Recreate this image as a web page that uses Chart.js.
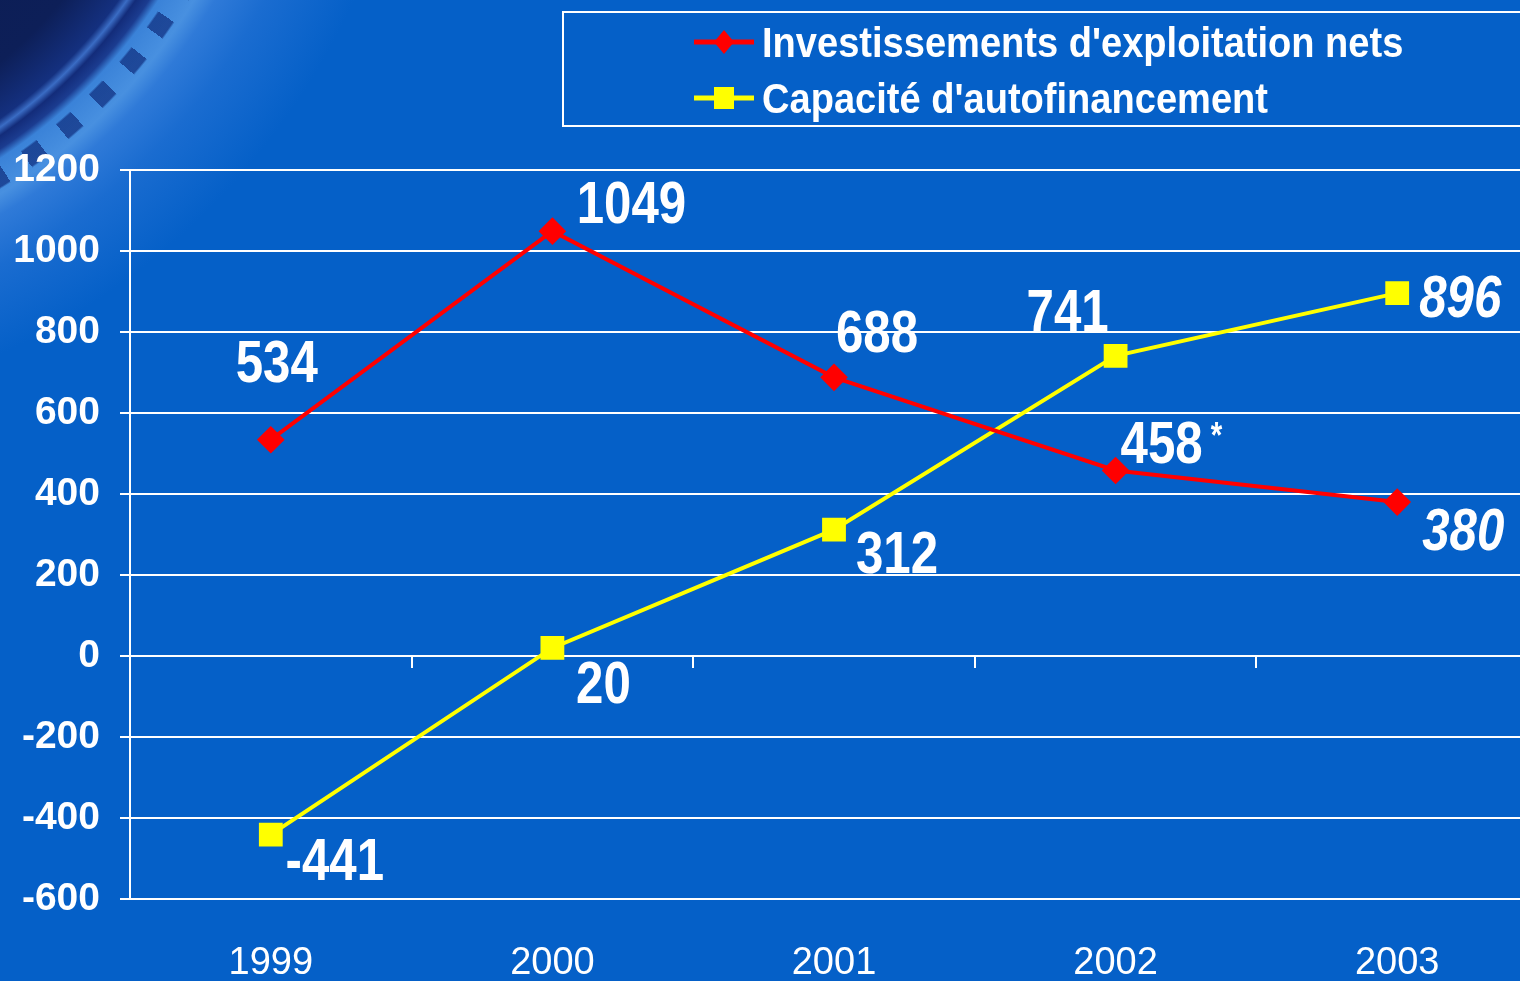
<!DOCTYPE html>
<html lang="fr">
<head>
<meta charset="UTF-8">
<title>Investissements et capacité d'autofinancement</title>
<script src="https://cdn.jsdelivr.net/npm/chart.js"></script>
<style>
  html, body { margin: 0; padding: 0; overflow: hidden; }
  body {
    width: 1520px; height: 981px; position: relative;
    background-color: #0560c8;
    background-image: radial-gradient(circle 720px at -300px -300px,
      #0a1848 0px, #0d1f58 470px, #14307f 515px, #3a6cc4 522px, #132c7a 529px, #1b3c90 540px,
      #3a82d8 548px, #4890e0 578px, #2f7ad8 596px, #1a6cd0 640px, #0560c8 720px);
  }
  #strip {
    position: absolute; left: 0; top: 0; width: 400px; height: 400px;
    background: repeating-conic-gradient(from 0deg at -300px -300px,
      rgba(18, 50, 130, 0.75) 0deg 2deg, transparent 2deg 4.6deg);
    -webkit-mask-image: radial-gradient(circle at -300px -300px, transparent 553px, #000 555px, #000 572px, transparent 574px);
    mask-image: radial-gradient(circle at -300px -300px, transparent 553px, #000 555px, #000 572px, transparent 574px);
  }
  #myChart { position: absolute; left: 0; top: 0; }
  #legend {
    position: absolute; left: 562px; top: 11px; width: 1000px; height: 116px;
    border: 2px solid #fff; box-sizing: border-box;
  }
  .item { position: absolute; left: 130px; height: 50px; display: flex; align-items: center; }
  .item span {
    color: #fff; font: bold 43px 'Liberation Sans', Arial, sans-serif;
    margin-left: 8px; white-space: nowrap;
    display: inline-block; transform: scaleX(0.885); transform-origin: left center;
  }
</style>
</head>
<body>
<div id="strip"></div>
<canvas id="myChart" width="1540" height="981"></canvas>
<div id="legend">
  <div class="item" style="top:4px">
    <svg width="60" height="30"><line x1="0" y1="15" x2="60" y2="15" stroke="#ff0000" stroke-width="5"/><polygon points="30,3 40,15 30,27 20,15" fill="#ff0000"/></svg>
    <span>Investissements d'exploitation nets</span>
  </div>
  <div class="item" style="top:60px">
    <svg width="60" height="30"><line x1="0" y1="15" x2="60" y2="15" stroke="#ffff00" stroke-width="5"/><rect x="20" y="4" width="20" height="22" fill="#ffff00"/></svg>
    <span>Capacité d'autofinancement</span>
  </div>
</div>
<script>
  const years = ['1999', '2000', '2001', '2002', '2003'];
  const investissements = [534, 1049, 688, 458, 380];
  const capacite = [-441, 20, 312, 741, 896];
  const yTicks = { min: -600, max: 1200, step: 200 };
  // label text suffix (the asterisk on 2002)
  const investSuffix = ['', '', '', ' *', ''];

  // where the value labels sit relative to their point, in px
  const labelOffsets = [
    [[6, -74], [79, -25], [43, -42], [46, -24], [66, 31]],
    [[64, 29], [51, 39], [63, 27], [-48, -41], [63, 7]]
  ];
  const sans = "'Liberation Sans', Arial, sans-serif";

  // small tick marks hanging under the zero line, between the categories
  const zeroTicks = {
    id: 'zeroTicks',
    beforeDatasetsDraw(chart) {
      const {ctx, scales: {x, y}} = chart;
      const y0 = y.getPixelForValue(0);
      ctx.save();
      ctx.strokeStyle = '#fff';
      ctx.lineWidth = 2;
      ctx.beginPath();
      for (let i = 0; i < years.length - 1; i++) {
        const px = Math.round((x.getPixelForValue(i) + x.getPixelForValue(i + 1)) / 2);
        ctx.moveTo(px, y0);
        ctx.lineTo(px, y0 + 12);
      }
      ctx.stroke();
      ctx.restore();
    }
  };

  const valueLabels = {
    id: 'valueLabels',
    afterDatasetsDraw(chart) {
      const ctx = chart.ctx;
      chart.data.datasets.forEach((ds, di) => {
        chart.getDatasetMeta(di).data.forEach((pt, i) => {
          const off = labelOffsets[di][i];
          const italic = i === years.length - 1 ? 'italic ' : '';
          const txt = String(ds.data[i]);
          ctx.save();
          ctx.translate(pt.x + off[0], pt.y + off[1]);
          ctx.scale(0.82, 1);   // narrow look of the original
          ctx.fillStyle = '#fff';
          ctx.textAlign = 'center';
          ctx.textBaseline = 'middle';
          ctx.font = italic + 'bold 60px ' + sans;
          ctx.fillText(txt, 0, 0);
          const suf = di === 0 ? investSuffix[i] : '';
          if (suf) {
            const w = ctx.measureText(txt).width;
            ctx.font = 'bold 36px ' + sans;
            ctx.textAlign = 'left';
            ctx.fillText(suf, w / 2, -8);
          }
          ctx.restore();
        });
      });
    }
  };

  const config = {
    type: 'line',
    data: {
      labels: years,
      datasets: [{
        label: "Investissements d'exploitation nets",
        data: investissements,
        borderColor: '#ff0000',
        backgroundColor: '#ff0000',
        borderWidth: 4,
        pointStyle: 'rectRot',
        pointRadius: 11,
        pointHoverRadius: 11,
        tension: 0
      }, {
        label: "Capacité d'autofinancement",
        data: capacite,
        borderColor: '#ffff00',
        backgroundColor: '#ffff00',
        borderWidth: 4,
        pointStyle: 'rect',
        pointRadius: 14,
        pointHoverRadius: 14,
        tension: 0
      }]
    },
    options: {
      responsive: false,
      animation: false,
      events: [],
      layout: { autoPadding: false, padding: { top: 170, right: 2, left: 0, bottom: 0 } },
      plugins: { legend: { display: false }, tooltip: { enabled: false } },
      scales: {
        x: {
          type: 'category',
          position: 'bottom',
          offset: true,
          grid: { display: false, drawTicks: false },
          border: { display: false },
          ticks: {
            color: '#fff',
            padding: 42,
            font: { family: sans, size: 38, weight: 'normal' }
          },
          afterFit(scale) { scale.height = 82; }
        },
        y: {
          min: yTicks.min,
          max: yTicks.max,
          grid: { color: '#fff', lineWidth: 2, tickLength: 10 },
          border: { display: true, color: '#fff', width: 2 },
          ticks: {
            stepSize: yTicks.step,
            color: '#fff',
            padding: 20,
            font: { family: sans, size: 39, weight: 'bold' },
            callback: (v) => String(v)
          },
          afterFit(scale) { scale.width = 130; }
        }
      }
    },
    plugins: [zeroTicks, valueLabels]
  };
  new Chart(document.getElementById('myChart'), config);
</script>
</body>
</html>
